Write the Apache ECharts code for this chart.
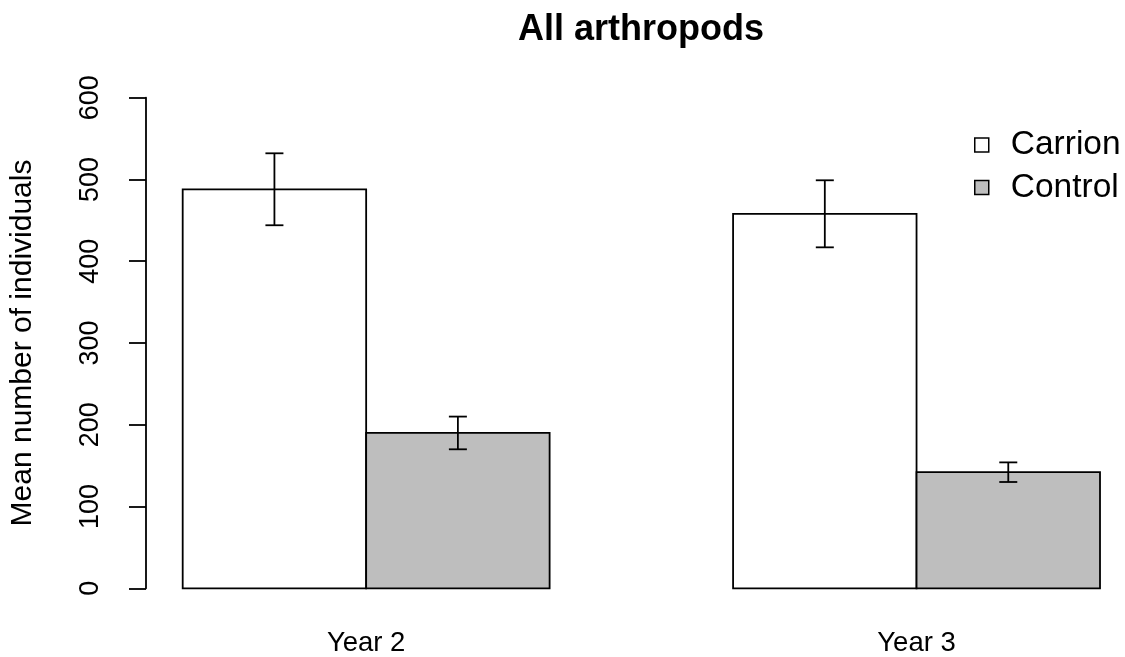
<!DOCTYPE html>
<html>
<head>
<meta charset="utf-8">
<title>All arthropods</title>
<script src="https://cdn.jsdelivr.net/npm/echarts@6/dist/echarts.min.js"></script>
<style>
  html, body { margin: 0; padding: 0; background: #ffffff; }
  #chart { width: 1125px; height: 657px; }
</style>
</head>
<body>
<div id="chart"></div>
<script>
// Mean number of individuals per treatment and year, with standard errors
const categories = ['Year 2', 'Year 3'];
const seriesNames = ['Carrion', 'Control'];
const carrionMean = [488, 458];
const carrionErr = [44, 41];
const controlMean = [190, 142];
const controlErr = [20, 12];
const yTicks = { min: 0, max: 600, step: 100 };

// Side-by-side layout: each bar is one unit wide, one unit of space before each group
const barLeft = (group, k) => 1 + group * 3 + k;
const groupCenter = group => barLeft(group, 0) + 1;

const fills = ['#ffffff', '#bebebe'];
const ink = '#000000';
const font = '"Liberation Sans", Arial, sans-serif';
const lw = 1.8;

function seriesData(means, errs, k) {
  return categories.map((c, i) => [barLeft(i, k), means[i], errs[i]]);
}

function renderBar(params, api) {
  const left = api.value(0);
  const mean = api.value(1);
  const err = api.value(2);
  const base = api.coord([left, 0]);
  const top = api.coord([left + 1, mean]);
  const cx = api.coord([left + 0.5, 0])[0];
  const yHi = api.coord([left, mean + err])[1];
  const yLo = api.coord([left, mean - err])[1];
  const cap = 9;
  const lineStyle = { stroke: ink, lineWidth: lw, fill: null };
  return {
    type: 'group',
    children: [
      {
        type: 'rect',
        shape: { x: base[0], y: top[1], width: top[0] - base[0], height: base[1] - top[1] },
        style: { fill: fills[params.seriesIndex], stroke: ink, lineWidth: lw }
      },
      { type: 'line', shape: { x1: cx, y1: yHi, x2: cx, y2: yLo }, style: lineStyle },
      { type: 'line', shape: { x1: cx - cap, y1: yHi, x2: cx + cap, y2: yHi }, style: lineStyle },
      { type: 'line', shape: { x1: cx - cap, y1: yLo, x2: cx + cap, y2: yLo }, style: lineStyle }
    ]
  };
}

const chart = echarts.init(document.getElementById('chart'), null, { renderer: 'canvas' });

chart.setOption({
  animation: false,
  backgroundColor: '#ffffff',
  title: {
    text: 'All arthropods',
    left: 636,
    top: 7,
    textAlign: 'center',
    textStyle: { fontFamily: font, fontSize: 36, fontWeight: 'bold', color: ink }
  },
  legend: {
    orient: 'vertical',
    left: 969,
    top: 123,
    itemWidth: 14,
    itemHeight: 14,
    itemGap: 8.5,
    icon: 'rect',
    textStyle: { fontFamily: font, fontSize: 33.5, lineHeight: 34, color: ink, padding: [0, 0, 0, 17] },
    data: seriesNames.map((n, k) => ({
      name: n,
      itemStyle: { color: fills[k], borderColor: ink, borderWidth: 1.5 }
    }))
  },
  grid: {
    left: 146, top: 97.7, width: 990.7, bottom: 68.7,
    containLabel: false,
    outerBoundsMode: 'none'
  },
  xAxis: {
    type: 'value',
    min: 0.8,
    max: 6.2,
    axisLine: { show: false },
    axisTick: { show: false },
    splitLine: { show: false },
    axisLabel: {
      customValues: categories.map((c, i) => groupCenter(i)),
      formatter: v => categories[Math.round((v - groupCenter(0)) / 3)],
      margin: 41,
      fontFamily: font,
      fontSize: 27.5,
      color: ink
    }
  },
  yAxis: {
    type: 'value',
    min: yTicks.min,
    max: yTicks.max,
    interval: yTicks.step,
    name: 'Mean number of individuals',
    nameLocation: 'middle',
    nameGap: 108,
    nameTextStyle: { fontFamily: font, fontSize: 30, color: ink },
    axisLine: { show: true, lineStyle: { color: ink, width: lw } },
    axisTick: { show: true, length: 17, lineStyle: { color: ink, width: lw } },
    splitLine: { show: false },
    axisLabel: { rotate: 90, margin: 42, fontFamily: font, fontSize: 27, color: ink }
  },
  series: [
    {
      name: seriesNames[0],
      type: 'custom',
      renderItem: renderBar,
      itemStyle: { color: fills[0], borderColor: ink },
      data: seriesData(carrionMean, carrionErr, 0)
    },
    {
      name: seriesNames[1],
      type: 'custom',
      renderItem: renderBar,
      itemStyle: { color: fills[1], borderColor: ink },
      data: seriesData(controlMean, controlErr, 1)
    }
  ]
});
</script>
</body>
</html>
